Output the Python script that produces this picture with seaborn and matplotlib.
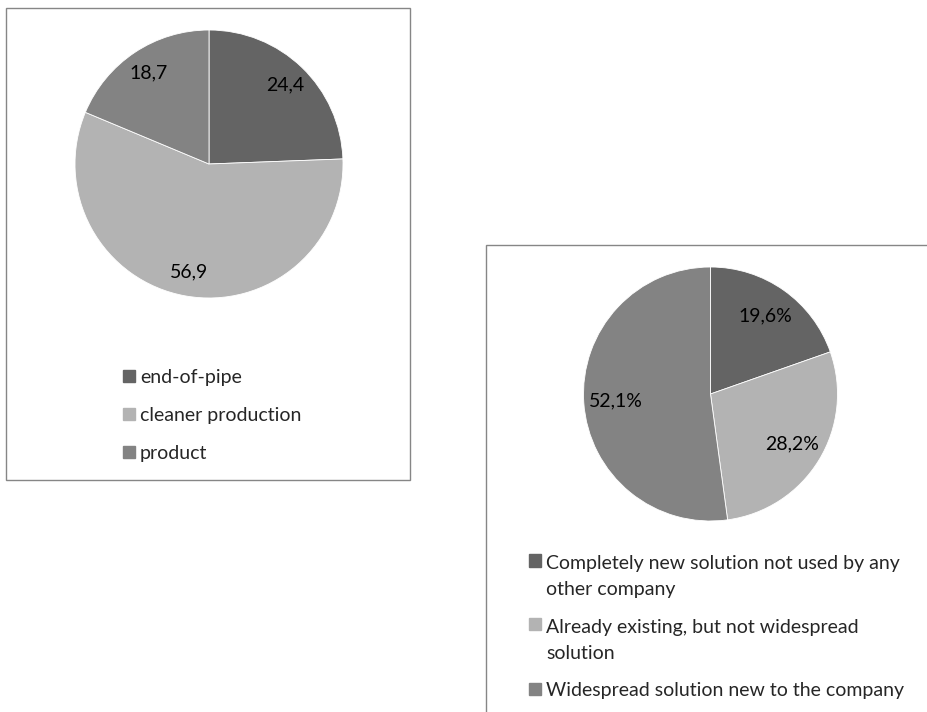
import matplotlib
matplotlib.use("Agg")
import matplotlib.pyplot as plt
import matplotlib.patches as mpatches
from matplotlib.legend_handler import HandlerPatch
import seaborn as sns

# data
types = ["end-of-pipe", "cleaner production", "product"]
type_share = [24.4, 56.9, 18.7]
type_labels = ["24,4", "56,9", "18,7"]

novelty = ["Completely new solution not used by any\nother company",
           "Already existing, but not widespread\nsolution",
           "Widespread solution new to the company"]
novelty_share = [19.6, 28.2, 52.1]
novelty_labels = ["19,6%", "28,2%", "52,1%"]

colors = ["#646464", "#b3b3b3", "#838383"]

sns.set_theme(style="white")
plt.rcParams['font.family'] = ['Lato', 'DejaVu Sans']

FS = 14
LINESP = 1.65
W, H = 927, 712
fig = plt.figure(figsize=(W / 100, H / 100), dpi=100)


def px_axes(cx, cy, r):
    return fig.add_axes([(cx - r) / W, 1 - (cy + r) / H, 2 * r / W, 2 * r / H])


def px_box(x0, y0, x1, y1):
    rect = mpatches.Rectangle((x0 / W, 1 - y1 / H), (x1 - x0) / W, (y1 - y0) / H,
                              transform=fig.transFigure, fill=False,
                              edgecolor="#868686", linewidth=1.0)
    fig.patches.append(rect)


def top_square(nlines):
    # keep the square level with the first line of a wrapped label
    shift = (nlines - 1) * LINESP * FS / 2

    def make(legend, orig_handle, xdescent, ydescent, width, height, fontsize):
        return mpatches.Rectangle((-xdescent, -ydescent + shift), width, height)
    return HandlerPatch(patch_func=make)


def draw_pie(ax, share, labels, dist):
    ax.pie(share, labels=labels, colors=colors, startangle=90,
           counterclock=False, labeldistance=dist,
           wedgeprops={"edgecolor": "white", "linewidth": 0.6},
           textprops={"fontsize": FS, "ha": "center", "va": "center", "color": "black"})
    ax.set_xlim(-1, 1)
    ax.set_ylim(-1, 1)
    ax.axis("off")


def draw_legend(names, x, y, spacing):
    handles = [mpatches.Patch(color=c) for c in colors]
    hmap = {h: top_square(n.count("\n") + 1) for h, n in zip(handles, names)}
    leg = fig.legend(handles, names, loc="upper left", handler_map=hmap,
                     bbox_to_anchor=(x / W, 1 - y / H), frameon=False,
                     fontsize=FS, handlelength=0.6, handleheight=0.6,
                     handletextpad=0.28, labelspacing=spacing, borderpad=0,
                     borderaxespad=0)
    for t in leg.get_texts():
        t.set_linespacing(LINESP)
    return leg


# left panel
px_box(6, 8, 410, 480)
ax1 = px_axes(209, 164, 134)
draw_pie(ax1, type_share, type_labels, 0.82)
draw_legend(types, 123, 369, 1.08)

# right panel
px_box(486, 245, 940, 730)
ax2 = px_axes(710.5, 394, 127)
draw_pie(ax2, novelty_share, novelty_labels, 0.75)
draw_legend(novelty, 529, 555, 1.05)

fig.savefig("out.png", dpi=100)
